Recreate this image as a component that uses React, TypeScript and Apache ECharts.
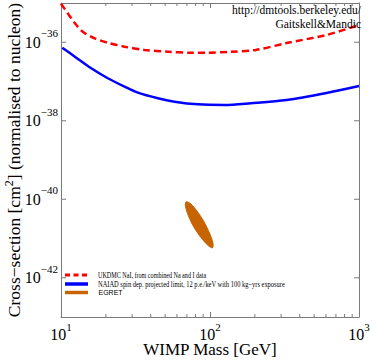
import React, { useEffect, useRef } from 'react';
import * as echarts from 'echarts';

const SERIF = '"Liberation Serif", "DejaVu Serif", serif';
const SANS = '"Liberation Sans", Arial, sans-serif';

const seriesNames = [
  'UKDMC NaI, from combined Na and I data',
  'NAIAD spin dep. projected limit, 12 p.e./keV with 100 kg\u2212yrs exposure',
  'EGRET',
];

// cross-sections in cm^2
const ukdmcMass = [10.0, 11.1, 12.4, 14.0, 16.8, 20.6, 26.7, 36.4, 52.1, 74.6, 96.6, 138, 203, 327, 605, 1000];
const ukdmcSigma = [9.6e-36, 5.47e-36, 3.04e-36, 1.86e-36, 1.26e-36, 9.75e-37, 7.71e-37, 6.35e-37, 5.74e-37, 5.42e-37, 5.42e-37, 5.74e-37, 6.35e-37, 9.57e-37, 1.53e-36, 2.75e-36];

const naiadMass = [10.2, 12.4, 15.96, 20.6, 26.7, 32.8, 44.7, 57.8, 82.8, 125, 187.5, 327, 605, 1000];
const naiadSigma = [7.26e-37, 4.28e-37, 2.17e-37, 1.21e-37, 7.38e-38, 5.19e-38, 3.73e-38, 3.06e-38, 2.62e-38, 2.52e-38, 2.79e-38, 3.38e-38, 5.09e-38, 7.67e-38];

const egretMass = [104.0, 104.6, 99.2, 91.0, 81.8, 74.1, 69.2, 68.4, 71.4, 77.6, 86.6, 97.2];
const egretSigma = [5.8e-42, 7.8e-42, 1.38e-41, 2.70e-41, 5.0e-41, 7.7e-41, 8.6e-41, 6.6e-41, 3.9e-41, 2.0e-41, 1.08e-41, 6.6e-42];

const xMin = 10;
const xMax = 1000;
// y axis in decades (log10 of cm^2)
const yMinExp = -43;
const yMaxExp = -35;
const xMinorTicks = [20, 30, 40, 50, 60, 70, 80, 90, 200, 300, 400, 500, 600, 700, 800, 900];
const yMajorTickExps = [-42, -40, -38, -36];

const creditLines = ['http://dmtools.berkeley.edu/', 'Gaitskell&Mandic'];

const AXIS_COLOR = '#7a7a7a';
const RED = '#ff0000';
const BLUE = '#0000ff';
const ORANGE = '#c86400';

const yRich = {
  b: { fontSize: 16, fontFamily: SERIF, color: '#000' },
  s: { fontSize: 11, fontFamily: SERIF, color: '#000', padding: [0, 0, 18, 0] },
};
// x labels: the base is pushed down instead, so the box ends at the base's bottom
const xRich = {
  b: { fontSize: 16, fontFamily: SERIF, color: '#000', padding: [14, 0, 0, 0] },
  s: { fontSize: 11, fontFamily: SERIF, color: '#000' },
};

export default function App() {
  const ref = useRef<HTMLDivElement>(null);

  useEffect(() => {
    if (!ref.current) return;
    const chart = echarts.init(ref.current, undefined, { renderer: 'svg' });

    const pair = (xs: number[], ys: number[]) => xs.map((x, i) => [x, Math.log10(ys[i])]);
    const egretData = pair(egretMass, egretSigma);

    const axisLine = { show: true, lineStyle: { color: AXIS_COLOR, width: 1 } };

    const option: any = {
      animation: false,
      backgroundColor: '#fff',
      grid: { left: 61, right: 15, top: 3, bottom: 44, containLabel: false, outerBoundsMode: 'none' },
      xAxis: [
        {
          type: 'log',
          logBase: 10,
          min: xMin,
          max: xMax,
          position: 'bottom',
          axisLine,
          axisTick: { show: true, inside: true, length: 5, lineStyle: { color: AXIS_COLOR } },
          splitLine: { show: false },
          axisLabel: {
            margin: -5,
            formatter: (v: number) => `{b|10}{s|${Math.round(Math.log10(v))}}`,
            rich: xRich,
          },
          name: 'WIMP Mass [GeV]',
          nameLocation: 'middle',
          nameGap: 25,
          nameMoveOverlap: false,
          nameTextStyle: { fontFamily: SERIF, fontSize: 17, lineHeight: 14, color: '#000' },
        },
        {
          type: 'log',
          logBase: 10,
          min: xMin,
          max: xMax,
          position: 'top',
          axisLine,
          axisTick: { show: true, inside: true, length: 5, lineStyle: { color: AXIS_COLOR } },
          splitLine: { show: false },
          axisLabel: { show: false },
        },
      ],
      yAxis: [
        {
          type: 'value',
          min: yMinExp,
          max: yMaxExp,
          interval: 1,
          position: 'left',
          axisLine,
          axisTick: { show: false },
          splitLine: { show: false },
          axisLabel: {
            margin: 3,
            formatter: (v: number) => {
              const e = Math.round(v);
              if (e % 2 !== 0) return '';
              return `{b|10}{s|\u2212${-e}}`;
            },
            rich: yRich,
          },
          name: '{a|Cross\u2212section [cm}{s|2}{a|] (normalised to nucleon)}',
          nameLocation: 'middle',
          nameGap: 36,
          nameMoveOverlap: false,
          nameTextStyle: {
            fontFamily: SERIF,
            fontSize: 17.5,
            color: '#000',
            rich: {
              a: { fontFamily: SERIF, fontSize: 17.5, color: '#000' },
              s: { fontFamily: SERIF, fontSize: 12, color: '#000', padding: [0, 0, 10, 0] },
            },
          },
        },
        {
          type: 'value',
          min: yMinExp,
          max: yMaxExp,
          interval: 1,
          position: 'right',
          axisLine,
          axisTick: { show: false },
          splitLine: { show: false },
          axisLabel: { show: false },
        },
      ],
      series: [
        {
          name: seriesNames[0],
          type: 'line',
          data: pair(ukdmcMass, ukdmcSigma),
          showSymbol: false,
          symbol: 'none',
          smooth: 0.3,
          lineStyle: { color: RED, width: 2.5, type: [7, 4] },
          z: 3,
        },
        {
          name: seriesNames[1],
          type: 'line',
          data: pair(naiadMass, naiadSigma),
          showSymbol: false,
          symbol: 'none',
          smooth: 0.3,
          lineStyle: { color: BLUE, width: 2.5 },
          z: 3,
        },
        {
          name: seriesNames[2],
          type: 'custom',
          data: egretData,
          silent: true,
          renderItem: (params: any, api: any) => {
            if (params.dataIndex !== 0) return null;
            const pts = egretData.map((p) => api.coord(p));
            return {
              type: 'polygon',
              shape: { points: pts, smooth: 0.3 },
              style: { fill: ORANGE, stroke: ORANGE, lineWidth: 1 },
            };
          },
          z: 2,
        },
        {
          name: 'xMinorTicks',
          type: 'custom',
          silent: true,
          data: xMinorTicks.map((v) => [v, yMinExp]),
          renderItem: (_p: any, api: any) => {
            const v = api.value(0);
            const b = api.coord([v, yMinExp]);
            const t = api.coord([v, yMaxExp]);
            const st = { stroke: AXIS_COLOR, lineWidth: 1 };
            return {
              type: 'group',
              children: [
                { type: 'line', shape: { x1: b[0], y1: b[1], x2: b[0], y2: b[1] - 3 }, style: st },
                { type: 'line', shape: { x1: t[0], y1: t[1], x2: t[0], y2: t[1] + 3 }, style: st },
              ],
            };
          },
          z: 4,
        },
        {
          name: 'yMajorTicks',
          type: 'custom',
          silent: true,
          data: yMajorTickExps.map((v) => [xMin, v]),
          renderItem: (_p: any, api: any) => {
            const v = api.value(1);
            const l = api.coord([xMin, v]);
            const r = api.coord([xMax, v]);
            const st = { stroke: AXIS_COLOR, lineWidth: 1 };
            return {
              type: 'group',
              children: [
                { type: 'line', shape: { x1: l[0], y1: l[1], x2: l[0] + 5, y2: l[1] }, style: st },
                { type: 'line', shape: { x1: r[0], y1: r[1], x2: r[0] - 5, y2: r[1] }, style: st },
              ],
            };
          },
          z: 4,
        },
      ],
      graphic: [
        {
          type: 'text',
          x: 361,
          y: 10,
          z: 10,
          style: { text: creditLines[0], fill: '#000', font: `11.5px ${SERIF}`, align: 'right', verticalAlign: 'middle' },
        },
        {
          type: 'text',
          x: 361,
          y: 24,
          z: 10,
          style: { text: creditLines[1], fill: '#000', font: `11.5px ${SERIF}`, align: 'right', verticalAlign: 'middle' },
        },
        {
          type: 'line',
          shape: { x1: 65, y1: 275, x2: 88, y2: 275 },
          style: { stroke: RED, lineWidth: 3, lineDash: [5, 3.5] },
          z: 10,
        },
        {
          type: 'line',
          shape: { x1: 65, y1: 284, x2: 88, y2: 284 },
          style: { stroke: BLUE, lineWidth: 3.5 },
          z: 10,
        },
        {
          type: 'line',
          shape: { x1: 65, y1: 292.5, x2: 88, y2: 292.5 },
          style: { stroke: ORANGE, lineWidth: 3.5 },
          z: 10,
        },
        {
          type: 'text',
          x: 98,
          y: 275.5,
          scaleX: 0.72,
          z: 10,
          style: { text: seriesNames[0], fill: '#000', font: `8.5px ${SERIF}`, align: 'left', verticalAlign: 'middle' },
        },
        {
          type: 'text',
          x: 98,
          y: 284,
          scaleX: 0.76,
          z: 10,
          style: { text: seriesNames[1], fill: '#000', font: `8.5px ${SERIF}`, align: 'left', verticalAlign: 'middle' },
        },
        {
          type: 'text',
          x: 98.5,
          y: 292,
          z: 10,
          style: { text: seriesNames[2], fill: '#000', font: `7px ${SANS}`, align: 'left', verticalAlign: 'middle' },
        },
      ],
    };

    chart.setOption(option);
    return () => chart.dispose();
  }, []);

  return <div ref={ref} style={{ width: 374, height: 361, position: 'absolute', left: 0, top: 0 }} />;
}
